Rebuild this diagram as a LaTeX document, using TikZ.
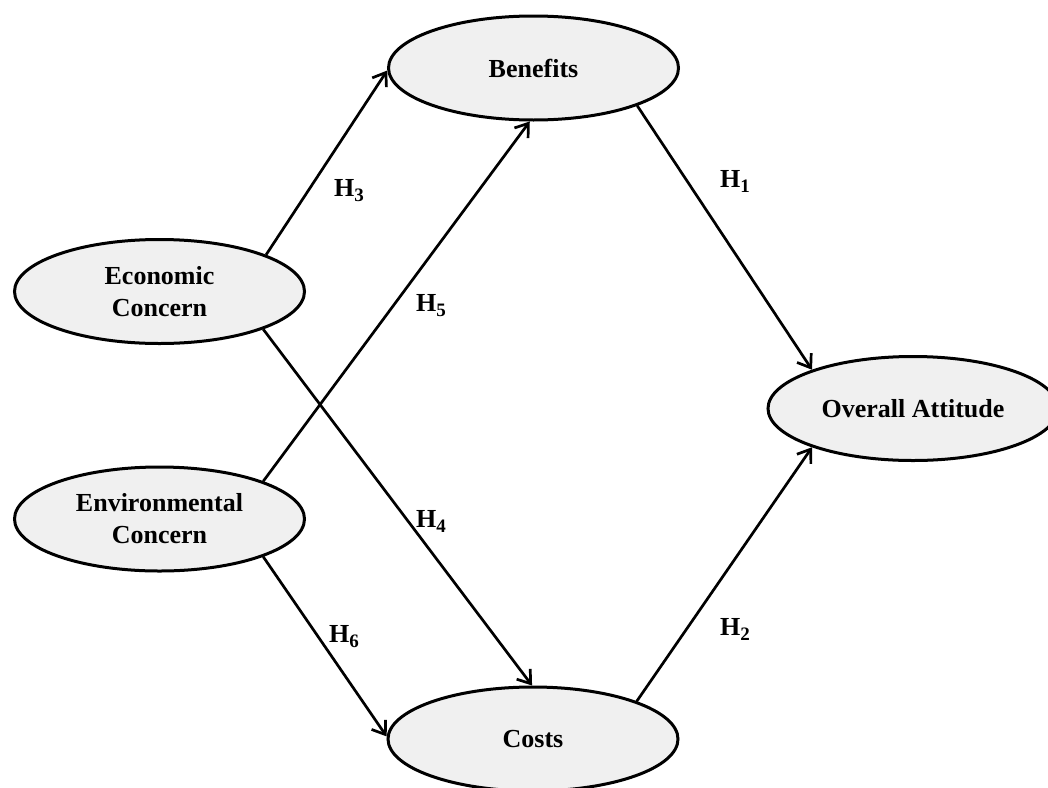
\documentclass[tikz,border=0pt]{standalone}
\usepackage{fontspec}
\setmainfont{Liberation Serif}
\usetikzlibrary{shapes.geometric,arrows.meta}
\definecolor{ellfill}{HTML}{F0F0F0}
\newcommand{\hsub}[1]{\raisebox{-5pt}{\fontsize{19}{19}\selectfont #1}}
\tikzset{
  construct/.style={ellipse, draw=black, line width=3pt, fill=ellfill,
    minimum width=290pt, minimum height=104pt, inner sep=0pt,
    align=center, font=\fontsize{26}{32}\selectfont\bfseries},
  path/.style={draw=black, line width=2.7pt,
    -{Straight Barb[length=12pt,width=17pt,line width=2.7pt]}},
  hlabel/.style={font=\fontsize{26}{30}\selectfont\bfseries, inner sep=0pt}
}
\begin{document}
\begin{tikzpicture}[x=1pt,y=-1pt]
\clip (0,0) rectangle (1048,787);
\fill[white] (0,0) rectangle (1048,787);
\node[construct] (ben) at (533.5,68) {Benefits};
\node[construct] (eco) at (159.5,291.5) {Economic\\Concern};
\node[construct] (env) at (159.5,519) {Environmental\\Concern};
\node[construct] (att) at (913,408.5) {Overall Attitude};
\node[construct] (cos) at (533,739) {Costs};

\draw[path] (eco.19) -- (ben.181);
\draw[path] (env.20) -- (ben.266);
\draw[path] (eco.-20) -- (cos.91);
\draw[path] (env.-20) -- (cos.179);
\draw[path] (ben.-20) -- (att.159);
\draw[path] (cos.20) -- (att.201);

\node[hlabel] (h3) at (349,191) {H\hsub{3}};
\node[hlabel] (h5) at (431,306) {H\hsub{5}};
\node[hlabel] (h4) at (431,521) {H\hsub{4}};
\node[hlabel] (h6) at (344,637) {H\hsub{6}};
\node[hlabel] (h1) at (735,181) {H\hsub{1}};
\node[hlabel] (h2) at (735,629) {H\hsub{2}};
\end{tikzpicture}
\end{document}
